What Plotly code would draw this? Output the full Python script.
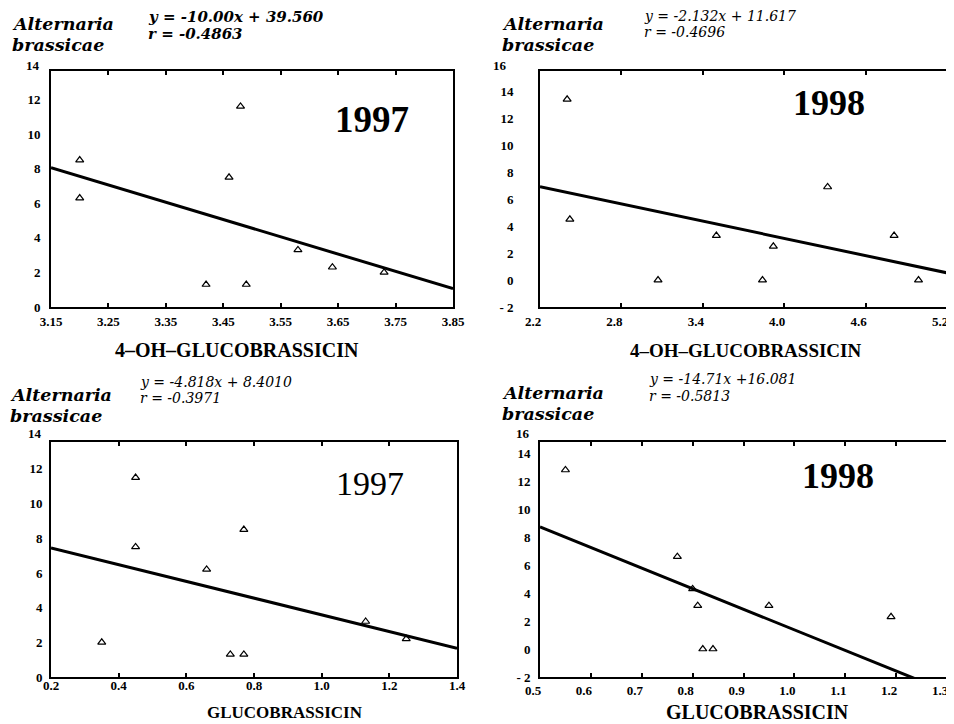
import plotly.graph_objects as go

# The page body adds an 8 px margin around the figure; everything below is
# laid out in window pixels and converted with that offset.
WIN_W, WIN_H = 954, 724
OFF = 8
W, H = WIN_W - OFF, WIN_H - OFF

# ---------------- data ----------------
# Panel 1: 1997, 4-OH-glucobrassicin
x_4oh_1997 = [3.20, 3.20, 3.48, 3.46, 3.58, 3.64, 3.73, 3.42, 3.49]
y_4oh_1997 = [8.5, 6.3, 11.6, 7.5, 3.3, 2.3, 2.0, 1.3, 1.3]
fit_4oh_1997 = (-10.00, 39.560)
eq_4oh_1997 = "y = -10.00x + 39.560"
r_4oh_1997 = "r = -0.4863"

# Panel 2: 1998, 4-OH-glucobrassicin
x_4oh_1998 = [2.40, 2.42, 3.07, 3.50, 3.84, 3.92, 4.32, 4.81, 4.99]
y_4oh_1998 = [13.4, 4.5, 0.0, 3.3, 0.0, 2.5, 6.9, 3.3, 0.0]
fit_4oh_1998 = (-2.132, 11.617)
eq_4oh_1998 = "y = -2.132x + 11.617"
r_4oh_1998 = "r = -0.4696"

# Panel 3: 1997, glucobrassicin
x_glu_1997 = [0.45, 0.45, 0.66, 0.77, 0.35, 0.73, 0.77, 1.13, 1.25]
y_glu_1997 = [11.5, 7.5, 6.2, 8.5, 2.0, 1.3, 1.3, 3.2, 2.2]
fit_glu_1997 = (-4.818, 8.4010)
eq_glu_1997 = "y = -4.818x + 8.4010"
r_glu_1997 = "r = -0.3971"

# Panel 4: 1998, glucobrassicin
x_glu_1998 = [0.55, 0.77, 0.80, 0.81, 0.95, 1.19, 0.82, 0.84]
y_glu_1998 = [12.8, 6.6, 4.3, 3.1, 3.1, 2.3, 0.0, 0.0]
fit_glu_1998 = (-14.71, 16.081)
eq_glu_1998 = "y = -14.71x +16.081"
r_glu_1998 = "r = -0.5813"

x_ticks_1 = [3.15, 3.25, 3.35, 3.45, 3.55, 3.65, 3.75, 3.85]
x_ticks_2 = [2.2, 2.8, 3.4, 4.0, 4.6, 5.2]
x_ticks_3 = [0.2, 0.4, 0.6, 0.8, 1.0, 1.2, 1.4]
x_ticks_4 = [0.5, 0.6, 0.7, 0.8, 0.9, 1.0, 1.1, 1.2, 1.3]
y_ticks_a = [0, 2, 4, 6, 8, 10, 12]
y_ticks_b = [-2, 0, 2, 4, 6, 8, 10, 12, 14]

x_title_a = "4–OH–GLUCOBRASSICIN"
x_title_b = "GLUCOBRASSICIN"

SERIF = "Liberation Serif"
WIDE = "DejaVu Serif"


def px(x):
    return (x - OFF) / W


def py(y):
    return 1 - (y - OFF) / H


panels = [
    dict(x=x_4oh_1997, y=y_4oh_1997, fit=fit_4oh_1997, xr=[3.15, 3.85], yr=[0, 13.65],
         xt=x_ticks_1, xtl=["%.2f" % v for v in x_ticks_1], yt=y_ticks_a,
         dom_x=[51, 453], dom_y=[71, 307], ystand=6, xstand=2, xshift=0),
    dict(x=x_4oh_1998, y=y_4oh_1998, fit=fit_4oh_1998, xr=[2.2, 5.2], yr=[-2, 15.5],
         xt=x_ticks_2, xtl=["%.1f" % v for v in x_ticks_2], yt=y_ticks_b,
         dom_x=[540, 947], dom_y=[71, 307], ystand=22, xstand=2, xshift=-7),
    dict(x=x_glu_1997, y=y_glu_1997, fit=fit_glu_1997, xr=[0.2, 1.4], yr=[0, 13.55],
         xt=x_ticks_3, xtl=["%.1f" % v for v in x_ticks_3], yt=y_ticks_a,
         dom_x=[51, 457], dom_y=[442, 677], ystand=4, xstand=-4, xshift=0),
    dict(x=x_glu_1998, y=y_glu_1998, fit=fit_glu_1998, xr=[0.5, 1.3], yr=[-2, 14.8],
         xt=x_ticks_4, xtl=["%.1f" % v for v in x_ticks_4], yt=y_ticks_b,
         dom_x=[540, 947], dom_y=[442, 677], ystand=5, xstand=1, xshift=-7),
]

fig = go.Figure()
layout = {}
tickfont = dict(family=SERIF, size=13, color="black", weight="bold")

for i, p in enumerate(panels, start=1):
    sx = "" if i == 1 else str(i)
    fig.add_trace(go.Scatter(
        x=p["x"], y=p["y"], mode="markers", xaxis="x" + sx, yaxis="y" + sx,
        marker=dict(symbol="triangle-up-open", size=7, color="black",
                    line=dict(color="black", width=1.2)),
        showlegend=False, hoverinfo="skip"))
    slope, icpt = p["fit"]
    lx = list(p["xr"])
    ly = [slope * v + icpt for v in lx]
    fig.add_trace(go.Scatter(
        x=lx, y=ly, mode="lines", xaxis="x" + sx, yaxis="y" + sx,
        line=dict(color="black", width=3), showlegend=False, hoverinfo="skip"))
    ytl = [("- 2" if v < 0 else str(v)) for v in p["yt"]]
    layout["xaxis" + sx] = dict(
        domain=[px(p["dom_x"][0]), px(p["dom_x"][1])], anchor="y" + sx,
        range=p["xr"], tickvals=p["xt"], ticktext=p["xtl"], automargin=False,
        showgrid=False, zeroline=False, showline=True, linecolor="black",
        linewidth=1.6, mirror="ticks", ticks="inside", ticklen=4, tickwidth=1.5,
        tickcolor="black", tickfont=tickfont, ticklabelstandoff=p["xstand"],
        ticklabelshift=p["xshift"])
    layout["yaxis" + sx] = dict(
        domain=[py(p["dom_y"][1]), py(p["dom_y"][0])], anchor="x" + sx,
        range=p["yr"], tickvals=p["yt"], ticktext=ytl, automargin=False,
        showgrid=False, zeroline=False, showline=True, linecolor="black",
        linewidth=1.6, mirror=True, ticks="", tickfont=tickfont,
        ticklabelstandoff=p["ystand"])

ann = []


def add_text(text, x, y, size, bold=False, italic=False, xanchor="left", family=SERIF):
    t = text
    if bold:
        t = "<b>" + t + "</b>"
    if italic:
        t = "<i>" + t + "</i>"
    ann.append(dict(text=t, x=px(x), y=py(y), xref="paper", yref="paper",
                    xanchor=xanchor, yanchor="middle", showarrow=False,
                    borderpad=0,
                    font=dict(family=family, size=size, color="black")))


# headers
add_text("Alternaria", 11, 24, 17.5, bold=True, italic=True, family=WIDE)
add_text("brassicae", 11, 45, 17.5, bold=True, italic=True, family=WIDE)
add_text(eq_4oh_1997, 147, 17, 15, bold=True, italic=True, family=WIDE)
add_text(r_4oh_1997, 147, 34.5, 15, bold=True, italic=True, family=WIDE)

add_text("Alternaria", 501, 24, 17.5, bold=True, italic=True, family=WIDE)
add_text("brassicae", 501, 45, 17.5, bold=True, italic=True, family=WIDE)
add_text(eq_4oh_1998, 643, 16, 14, italic=True, family=WIDE)
add_text(r_4oh_1998, 643, 32.5, 14, italic=True, family=WIDE)

add_text("Alternaria", 9, 395, 17.5, bold=True, italic=True, family=WIDE)
add_text("brassicae", 9, 416, 17.5, bold=True, italic=True, family=WIDE)
add_text(eq_glu_1997, 139, 381.5, 14, italic=True, family=WIDE)
add_text(r_glu_1997, 139, 398, 14, italic=True, family=WIDE)

add_text("Alternaria", 501, 393, 17.5, bold=True, italic=True, family=WIDE)
add_text("brassicae", 501, 414, 17.5, bold=True, italic=True, family=WIDE)
add_text(eq_glu_1998, 648, 379.5, 14, italic=True, family=WIDE)
add_text(r_glu_1998, 648, 396, 14, italic=True, family=WIDE)

# year labels
add_text("1997", 372, 119, 37, bold=True, xanchor="center")
add_text("1998", 829, 103, 36, bold=True, xanchor="center")
add_text("1997", 370, 483, 34, xanchor="center")
add_text("1998", 838, 476, 36, bold=True, xanchor="center")

# x axis titles
add_text(x_title_a, 237, 350, 20, bold=True, xanchor="center")
add_text(x_title_a, 745, 350, 19, bold=True, xanchor="center")
add_text(x_title_b, 285, 712, 17, bold=True, xanchor="center")
add_text(x_title_b, 757, 712, 20, bold=True, xanchor="center")

# top y tick labels (sit just above the plot frame)
add_text("<b>14</b>", 41, 65, 13, xanchor="right")
add_text("<b>16</b>", 508, 65, 13, xanchor="right")
add_text("<b>14</b>", 43, 433, 13, xanchor="right")
add_text("<b>16</b>", 531, 433, 13, xanchor="right")

fig.update_layout(
    width=W, height=H, margin=dict(l=0, r=0, t=0, b=0, autoexpand=False),
    paper_bgcolor="white", plot_bgcolor="white",
    annotations=ann, **layout)

fig.write_html("out.html")
